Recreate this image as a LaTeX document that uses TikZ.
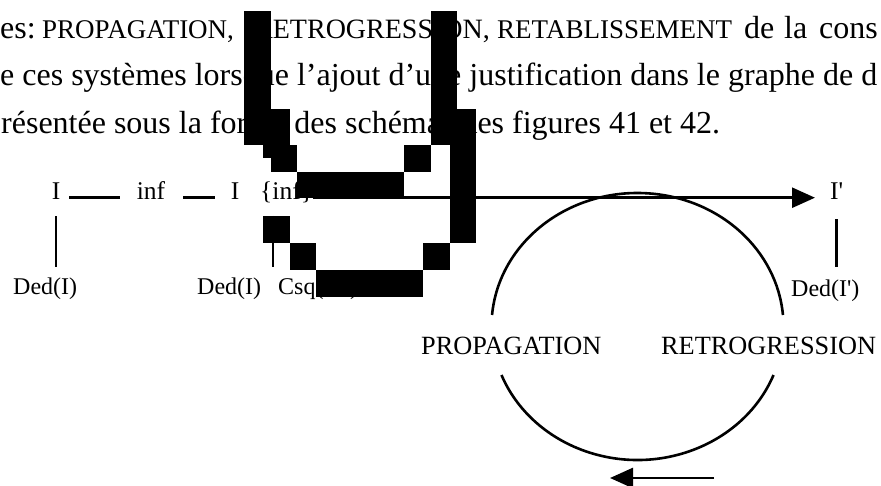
\documentclass[tikz,border=0pt]{standalone}
\usepackage{fontspec}
\setmainfont{Liberation Serif}
\usetikzlibrary{arrows.meta}
\begin{document}
\begin{tikzpicture}[x=1pt,y=-1pt,
  para/.style={anchor=base west, inner sep=0pt, font=\fontsize{32}{38}\selectfont},
  caps/.style={anchor=base west, inner sep=0pt, font=\fontsize{27}{34}\selectfont},
  lbl/.style={anchor=base, inner sep=0pt, font=\fontsize{25.5}{30}\selectfont},
  ded/.style={anchor=base west, inner sep=0pt, font=\fontsize{24}{28}\selectfont},
  cyclbl/.style={anchor=base west, inner sep=0pt, font=\fontsize{26.3}{30}\selectfont},
  link/.style={line width=2.6pt},
  blk/.style={fill=black, draw=none},
  tip/.style={-{Triangle[length=23pt,width=20pt]}}
]
\useasboundingbox (0,0) rectangle (881,486);
\clip (0,0) rectangle (881,486);
\fill[white] (0,0) rectangle (881,486);

% paragraph (background text)
\node[para] (w1) at (0,39) {es:};
\node[caps] (w2) at (42,39) {PROPAGATION,};
\node[caps, font=\fontsize{28}{34}\selectfont] (w3) at (254,39) {RETROGRESSION,};
\node[caps] (w4) at (497,39) {RETABLISSEMENT};
\node[para] (w5) at (744,39) {de};
\node[para] (w6) at (784,39) {la};
\node[para] (w7) at (819,39) {cons};
\node[para] (l2) at (0,85.5) {e ces systèmes lorsque l’ajout d’une justification dans le graphe de d};
\node[para] (l3) at (1,134) {résentée sous la forme des schémas des figures 41 et 42.};

% diagram labels
\node[lbl] (i1) at (56,200) {I};
\node[lbl] (inf) at (151,200) {inf};
\node[lbl] (i2) at (235,200) {I};
\node[lbl, anchor=base west] (set) at (260,200) {\{inf\}};
\node[lbl, anchor=base west] (ip) at (830,200) {I\textquotesingle};
\node[ded] (d1) at (13,295) {Ded(I)};
\node[ded] (d2) at (197,295) {Ded(I)};
\node[ded] (c2) at (278,295) {Csq(inf)};
\node[ded] (dp) at (791,297) {Ded(I\textquotesingle)};
\node[cyclbl] (prop) at (421,355) {PROPAGATION};
\node[cyclbl] (retro) at (661,355) {RETROGRESSION};

% connectors
\draw[link, shorten <=9pt, shorten >=17pt] (i1.mid east) -- (inf.mid west);
\draw[link, shorten <=18pt, shorten >=16pt] (inf.mid east) -- (i2.mid west);
\draw[link, tip, shorten >=15pt] (set.mid east) -- (ip.mid west);
\draw[link, shorten <=16pt, shorten >=11pt] (i1.south) -- (i1.south |- d1.north);
\coordinate (k2) at (273,216);
\draw[link, shorten >=11pt] (k2) -- (k2 |- d2.north);
\draw[link, shorten <=19pt, shorten >=13pt] (ip.south) -- (ip.south |- dp.north);

% cycle
\coordinate (cyc) at (637.5,326.5);
\draw[link] ([shift={(184.94:146 and 133.5)}]cyc) arc[start angle=184.94, end angle=355.06, x radius=146, y radius=133.5];
\draw[link] ([shift={(21.3:146 and 133.5)}]cyc) arc[start angle=21.3, end angle=158.7, x radius=146, y radius=133.5];
\coordinate (bt) at (714,478);
\coordinate (bh) at (610,478);
\draw[link, tip] (bt) -- (bh);

% pixel glyph overlay
\fill[blk] (244,11) rectangle (271,145);
\fill[blk] (431,11) rectangle (457,145);
\fill[blk] (263,109) rectangle (290,158);
\fill[blk] (271,145) rectangle (297,172);
\fill[blk] (404,145) rectangle (431,172);
\fill[blk] (297,172) rectangle (404,198);
\fill[blk] (450,109) rectangle (476,243);
\fill[blk] (263,216) rectangle (290,243);
\fill[blk] (290,243) rectangle (316,270);
\fill[blk] (316,270) rectangle (423,297);
\fill[blk] (423,243) rectangle (450,270);
\end{tikzpicture}
\end{document}
